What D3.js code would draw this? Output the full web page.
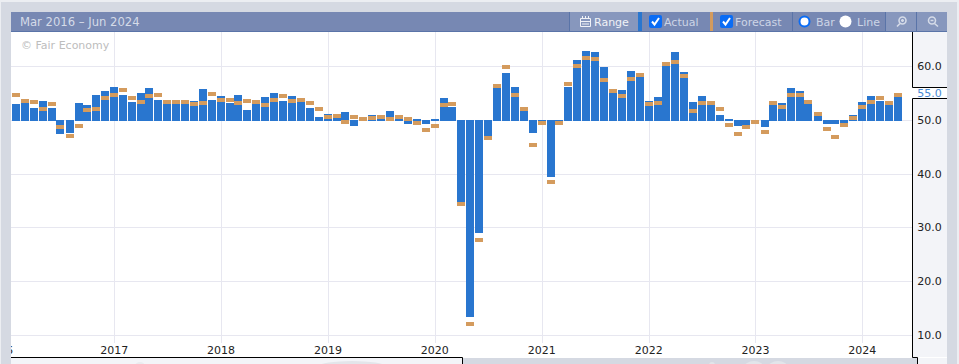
<!DOCTYPE html>
<html>
<head>
<meta charset="utf-8">
<style>
html, body { margin: 0; padding: 0; background: #d5d9e2; overflow: hidden; }
text { font-family: "DejaVu Sans", sans-serif; }
</style>
<script src="https://cdn.jsdelivr.net/npm/d3@7"></script>
</head>
<body>
<svg id="chart" width="959" height="364"></svg>
<script>
const months = d3.timeMonths(new Date(2016, 1, 1), new Date(2024, 5, 1))
const actual = [
  52.9, 53.3, 52.3, 53.6, 52.3, 47.3, 47.5, 53.1, 52.7, 54.6, 55.3, 56.2,
  54.6, 53.4, 55.1, 55.9, 53.8, 52.9, 53.8, 52.9, 53.6, 55.7, 53.8, 54.4,
  53.1, 54.6, 51.8, 52.9, 54.2, 55.1, 53.6, 54.4, 53.4, 52.3, 50.5, 51.2,
  50.3, 51.4, 48.8, 50.0, 51.0, 50.3, 51.6, 50.3, 49.3, 50.1, 49.2, 50.1,
  54.0, 52.5, 34.8, 13.3, 28.9, 47.1, 56.0, 58.8, 56.2, 51.6, 47.5, 49.8,
  39.3, 49.7, 56.2, 61.1, 62.9, 62.6, 59.8, 55.7, 55.5, 59.2, 57.9, 53.6,
  54.2, 60.1, 62.7, 59.0, 53.4, 54.4, 52.7, 51.0, 50.1, 48.8, 49.0, 49.9,
  48.6, 53.6, 53.1, 56.0, 55.3, 53.1, 50.8, 49.3, 49.2, 49.3, 51.0, 53.4,
  54.4, 53.6, 52.7, 55.1,
]
const forecast = [
  54.7, 53.6, 53.3, 52.1, 52.9, 48.6, 47.1, 48.8, 51.8, 52.1, 54.0, 54.6,
  55.5, 54.0, 53.3, 54.4, 54.7, 53.3, 53.3, 53.3, 52.9, 53.1, 54.9, 53.8,
  53.8, 53.1, 53.6, 53.3, 52.7, 53.8, 54.4, 53.6, 53.8, 53.1, 52.1, 50.5,
  50.8, 49.7, 50.6, 50.1, 50.3, 50.6, 50.1, 50.6, 50.1, 49.4, 48.2, 48.8,
  52.7, 52.9, 34.4, 12.0, 27.6, 46.7, 56.4, 59.8, 54.7, 52.0, 45.4, 49.5,
  38.5, 49.4, 56.6, 60.0, 61.6, 61.4, 57.5, 55.3, 54.4, 57.7, 58.3, 52.9,
  53.1, 60.5, 60.7, 58.1, 51.6, 53.1, 53.1, 52.1, 49.0, 47.3, 48.6, 49.7,
  47.7, 53.1, 52.5, 54.6, 54.7, 53.4, 51.2, 48.4, 46.9, 49.0, 50.3, 52.5,
  53.4, 54.0, 53.1, 54.6,
]
const yTicks = [10, 20, 30, 40, 50, 60]
const xTicks = [2017, 2018, 2019, 2020, 2021, 2022, 2023, 2024]
const latestValue = 55.0
const headerTitle = 'Mar 2016 – Jun 2024'

const actualColor = '#2976cf'
const forecastColor = '#d49b5d'
const gridColor = '#e7e7f0'
const headerColor = '#7788b3'
const panelColor = '#f3f4f8'
const frameColor = '#d5d9e2'

const plotLeft = 11
const plotRight = 912
const plotTop = 32
const plotBottom = 357

const xScale = d3
  .scaleTime()
  .domain([new Date(2017, 0, 1), new Date(2024, 0, 1)])
  .range([114.3, 862.3])
const yScale = d3.scaleLinear().domain([10, 60]).range([335, 66.2])

const svg = d3.select('#chart')

svg
  .append('defs')
  .append('clipPath')
  .attr('id', 'plot-clip')
  .append('rect')
  .attr('x', plotLeft)
  .attr('y', plotTop)
  .attr('width', plotRight - plotLeft)
  .attr('height', plotBottom - plotTop)

// page frame and plot area
svg.append('rect').attr('width', 959).attr('height', 2).attr('fill', '#eceef2')
svg.append('rect').attr('width', 1).attr('height', 364).attr('fill', '#eceef2')
svg.append('rect').attr('x', 957).attr('width', 2).attr('height', 364).attr('fill', '#eceef2')
svg.append('rect').attr('x', 11).attr('y', 12).attr('width', 936).attr('height', 346).attr('fill', '#fff')
svg
  .append('rect')
  .attr('x', plotRight)
  .attr('y', plotTop)
  .attr('width', 35)
  .attr('height', plotBottom - plotTop)
  .attr('fill', panelColor)
svg.append('rect').attr('x', 11).attr('y', 358).attr('width', 451).attr('height', 6).attr('fill', panelColor)
svg.append('rect').attr('x', 462).attr('y', 358).attr('width', 456).attr('height', 6).attr('fill', frameColor)
svg.append('rect').attr('x', 918).attr('y', 358).attr('width', 29).attr('height', 6).attr('fill', panelColor)

// faint range navigator shapes showing at the bottom edge
svg.append('ellipse').attr('cx', 352).attr('cy', 366).attr('rx', 33).attr('ry', 5).attr('fill', '#e3e5ea')
svg.append('ellipse').attr('cx', 140).attr('cy', 366).attr('rx', 5).attr('ry', 4).attr('fill', '#e9ebef')
svg.append('ellipse').attr('cx', 754).attr('cy', 368).attr('rx', 10).attr('ry', 7).attr('fill', '#e2e5ea')
svg.append('ellipse').attr('cx', 778).attr('cy', 368).attr('rx', 10).attr('ry', 7).attr('fill', '#e2e5ea')
svg.append('ellipse').attr('cx', 712).attr('cy', 365).attr('rx', 3).attr('ry', 3).attr('fill', '#e2e5ea')

// grid
const grid = svg.append('g').attr('class', 'grid')
grid
  .selectAll('.h')
  .data(yTicks)
  .join('line')
  .attr('x1', plotLeft)
  .attr('x2', plotRight)
  .attr('y1', d => Math.round(yScale(d)) + 0.5)
  .attr('y2', d => Math.round(yScale(d)) + 0.5)
  .attr('stroke', gridColor)
grid
  .selectAll('.v')
  .data(xTicks)
  .join('line')
  .attr('x1', d => Math.round(xScale(new Date(d, 0, 1))) + 0.5)
  .attr('x2', d => Math.round(xScale(new Date(d, 0, 1))) + 0.5)
  .attr('y1', plotTop)
  .attr('y2', plotBottom - 14)
  .attr('stroke', gridColor)

// bars, positive ones stop on the 50 line and negative ones hang under it
const baseY = Math.round(yScale(50))
const barWidth = 8
const rows = months.map((date, i) => ({ date, actual: actual[i], forecast: forecast[i] }))

svg
  .append('g')
  .attr('class', 'actual')
  .selectAll('rect')
  .data(rows)
  .join('rect')
  .attr('x', d => Math.round(xScale(d.date) - barWidth / 2))
  .attr('y', d => (d.actual >= 50 ? Math.round(yScale(d.actual)) : baseY))
  .attr('width', barWidth)
  .attr('height', d =>
    d.actual >= 50
      ? baseY + 1 - Math.round(yScale(d.actual))
      : Math.round(yScale(d.actual)) - baseY,
  )
  .attr('fill', actualColor)

svg
  .append('g')
  .attr('class', 'forecast')
  .selectAll('rect')
  .data(rows)
  .join('rect')
  .attr('x', d => Math.round(xScale(d.date) - barWidth / 2))
  .attr('y', d => Math.round(yScale(d.forecast)) - 2)
  .attr('width', barWidth)
  .attr('height', 4)
  .attr('fill', forecastColor)

svg
  .append('text')
  .attr('x', 21)
  .attr('y', 49)
  .attr('font-size', 11)
  .attr('fill', '#bdbdbd')
  .text('© Fair Economy')

// x axis labels, 2016 runs off the left of the plot and gets clipped
svg
  .append('g')
  .selectAll('text')
  .data(xTicks)
  .join('text')
  .attr('x', d => xScale(new Date(d, 0, 1)))
  .attr('y', 354)
  .attr('text-anchor', 'middle')
  .attr('font-size', 11)
  .attr('fill', '#222')
  .text(d => d)
svg
  .append('text')
  .attr('x', 13)
  .attr('y', 354)
  .attr('text-anchor', 'end')
  .attr('font-size', 11)
  .attr('fill', '#222')
  .attr('clip-path', 'url(#plot-clip)')
  .text('2016')

// right axis
svg
  .append('g')
  .selectAll('text')
  .data(yTicks)
  .join('text')
  .attr('x', 929.5)
  .attr('y', d => yScale(d) + 4)
  .attr('text-anchor', 'middle')
  .attr('font-size', 11)
  .attr('fill', '#222')
  .text(d => d.toFixed(1))

// the gap in the axis border that holds the latest value
svg.append('rect').attr('x', plotRight).attr('y', 88).attr('width', 35).attr('height', 10).attr('fill', '#fff')
svg
  .append('text')
  .attr('x', 929.5)
  .attr('y', 97)
  .attr('text-anchor', 'middle')
  .attr('font-size', 11)
  .attr('fill', '#4a8ad4')
  .text(latestValue.toFixed(1))
svg
  .append('path')
  .attr('d', 'M912.5,32V87.5H947M947,98.5H912.5V357.5H917.5V364M11,357.5H462.5V364')
  .attr('fill', 'none')
  .attr('stroke', '#000')

// toolbar
svg.append('rect').attr('x', 11).attr('y', 12).attr('width', 936).attr('height', 20).attr('fill', headerColor)
svg.append('rect').attr('x', 11).attr('y', 31).attr('width', 936).attr('height', 1).attr('fill', '#5a74a8')
svg
  .append('text')
  .attr('x', 20)
  .attr('y', 26)
  .attr('font-size', 11.6)
  .attr('fill', '#d5dbe8')
  .text(headerTitle)

const toolbar = svg.append('g')
toolbar.append('rect').attr('x', 570).attr('y', 12).attr('width', 68).attr('height', 19).attr('fill', '#8797bd')
toolbar.append('rect').attr('x', 638).attr('y', 12).attr('width', 4).attr('height', 19).attr('fill', actualColor)
toolbar.append('rect').attr('x', 710).attr('y', 12).attr('width', 3).attr('height', 19).attr('fill', forecastColor)
toolbar.append('rect').attr('x', 886).attr('y', 12).attr('width', 61).attr('height', 19).attr('fill', '#8797bd')

const separators = [569, 792, 885, 916]
toolbar
  .selectAll('.sep')
  .data(separators)
  .join('line')
  .attr('x1', d => d + 0.5)
  .attr('x2', d => d + 0.5)
  .attr('y1', 12)
  .attr('y2', 31)
  .attr('stroke', '#5a74a8')

// calendar icon next to Range
toolbar
  .append('path')
  .attr('d', 'M580.5,18.5H590.5V26.5H580.5ZM580.5,21.5H590.5M582.5,16V19M585.5,16V19M588.5,16V19M582,24H589')
  .attr('fill', 'none')
  .attr('stroke', '#f0f2f7')

const toolbarLabels = [
  { x: 594, label: 'Range', fill: '#f0f2f7' },
  { x: 664, label: 'Actual', fill: '#cdd5e6' },
  { x: 735, label: 'Forecast', fill: '#cdd5e6' },
  { x: 816, label: 'Bar', fill: '#cdd5e6' },
  { x: 857, label: 'Line', fill: '#cdd5e6' },
]
toolbar
  .selectAll('text')
  .data(toolbarLabels)
  .join('text')
  .attr('x', d => d.x)
  .attr('y', 26)
  .attr('font-size', 11)
  .attr('fill', d => d.fill)
  .text(d => d.label)

// checkboxes
const checks = [649, 720]
toolbar
  .selectAll('.check')
  .data(checks)
  .join('rect')
  .attr('x', d => d)
  .attr('y', 15)
  .attr('width', 13)
  .attr('height', 13)
  .attr('rx', 2)
  .attr('fill', '#0a6cf5')
toolbar
  .selectAll('.tick')
  .data(checks)
  .join('path')
  .attr('d', d => `M${d + 3},${21.5}L${d + 5.5},${24.5}L${d + 10},${18}`)
  .attr('fill', 'none')
  .attr('stroke', '#fff')
  .attr('stroke-width', 2)

// radios
toolbar.append('circle').attr('cx', 804.5).attr('cy', 21.5).attr('r', 5).attr('fill', '#fff').attr('stroke', '#0a6cf5').attr('stroke-width', 2)
toolbar.append('circle').attr('cx', 845.5).attr('cy', 21.5).attr('r', 6).attr('fill', '#fff')

// zoom in has its handle lower left, zoom out lower right
const iconColor = '#d5dbe8'
toolbar.append('circle').attr('cx', 902.5).attr('cy', 20.5).attr('r', 3.5).attr('fill', 'none').attr('stroke', iconColor).attr('stroke-width', 1.6)
toolbar.append('path').attr('d', 'M900,23.5L897,26.5M901,20.5H904M902.5,19V22').attr('stroke', iconColor).attr('stroke-width', 1.6)
toolbar.append('circle').attr('cx', 932).attr('cy', 20.5).attr('r', 3.5).attr('fill', 'none').attr('stroke', iconColor).attr('stroke-width', 1.6)
toolbar.append('path').attr('d', 'M934.5,23.5L938,26.5M930.5,20.5H933.5').attr('stroke', iconColor).attr('stroke-width', 1.6)
</script>
</body>
</html>
